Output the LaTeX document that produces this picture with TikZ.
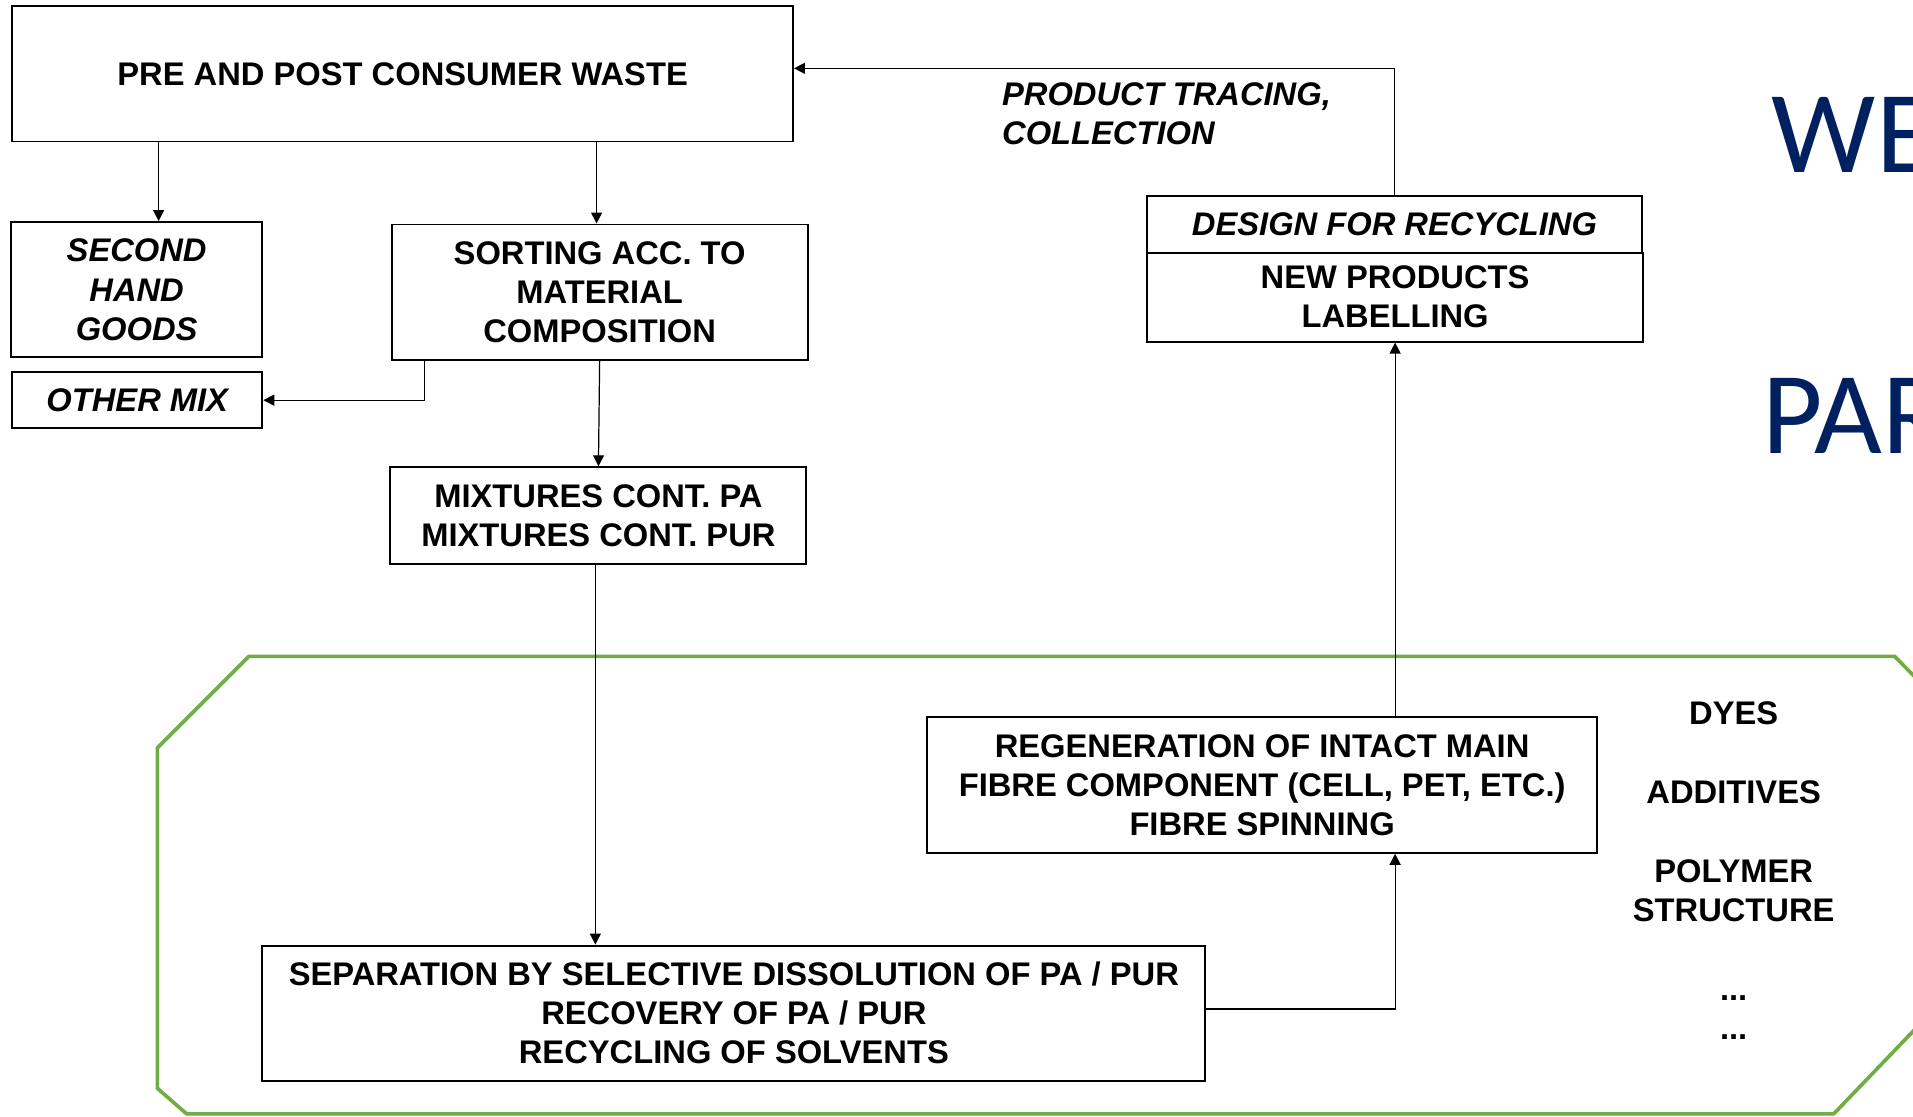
\documentclass[tikz,border=0pt]{standalone}
\usepackage{fontspec}
\setmainfont{Liberation Sans}
\newfontfamily\calibrifam{Carlito}
\usetikzlibrary{arrows.meta}
\definecolor{navyblue}{RGB}{0,32,96}
\definecolor{pgreen}{RGB}{112,173,71}
\newcommand\dtxt{\bfseries\fontsize{13.4}{16}\selectfont}
\begin{document}
\begin{tikzpicture}[x=0.5pt,y=-0.5pt,
  box/.style={draw,line width=0.8pt,inner sep=0pt,align=center,font=\dtxt},
  ibox/.style={box,font=\dtxt\itshape},
  lbl/.style={inner sep=0pt,align=center,font=\dtxt},
  conn/.style={line width=0.5pt,-{Triangle[length=4.5pt,width=4.5pt]}},
  big/.style={inner sep=0pt,anchor=base west,text=navyblue,font=\calibrifam\fontsize{48}{48}\selectfont}]
\clip (0,0) rectangle (1568,915);
% green frame
\draw[pgreen,line width=1.5pt,line join=miter]
  (1600,586) -- (1553,538) -- (204,538) -- (129,613) -- (129,892) -- (153,913) -- (1503,913) -- (1600,812);
% boxes
\node[box,minimum width=320pt,minimum height=55.5pt] (waste) at (330,60.5) {PRE AND POST CONSUMER WASTE};
\node[ibox,minimum width=103pt,minimum height=55.5pt] (second) at (112,237.5) {SECOND\\HAND\\GOODS};
\node[ibox,minimum width=102.5pt,minimum height=23pt] (othermix) at (112.5,328) {OTHER MIX};
\node[box,minimum width=170.5pt,minimum height=55.5pt] (sorting) at (491.5,239.5) {SORTING ACC. TO\\MATERIAL\\COMPOSITION};
\node[box,minimum width=170.5pt,minimum height=39.5pt] (mixtures) at (490.5,422.5) {MIXTURES CONT. PA\\MIXTURES CONT. PUR};
\node[ibox,minimum width=203pt,minimum height=23pt] (design) at (1143,184) {DESIGN FOR RECYCLING};
\node[box,minimum width=203.5pt,minimum height=36.5pt] (newprod) at (1143.5,243.5) {NEW PRODUCTS\\LABELLING};
\node[box,minimum width=274.5pt,minimum height=55.5pt] (regen) at (1034.5,643.5) {REGENERATION OF INTACT MAIN\\FIBRE COMPONENT (CELL, PET, ETC.)\\FIBRE SPINNING};
\node[box,minimum width=386.5pt,minimum height=55.5pt] (sep) at (601.5,830.5) {SEPARATION BY SELECTIVE DISSOLUTION OF PA / PUR\\RECOVERY OF PA / PUR\\RECYCLING OF SOLVENTS};
% labels
\node[lbl,anchor=west,align=left,font=\dtxt\itshape] (trace) at (821,93) {PRODUCT TRACING,\\COLLECTION};
\node[lbl] (dyes) at (1421,585) {DYES};
\node[lbl] (additives) at (1421,649) {ADDITIVES};
\node[lbl] (polymer) at (1421,730) {POLYMER\\STRUCTURE};
\node[lbl,anchor=base] (dots1) at (1421,820) {...};
\node[lbl,anchor=base] (dots2) at (1421,852) {...};
\node[big] (we) at (1452,141) {WE};
\node[big] (par) at (1444,372) {PAR};
% helper coordinates
\coordinate (x130) at (130,0);
\coordinate (x489) at (489,0);
\coordinate (x348) at (348,0);
\coordinate (x488) at (488,0);
\coordinate (x1143) at (1143.5,0);
% connectors
\draw[conn] (waste.south -| x130) -- (second.north -| x130);
\draw[conn] (waste.south -| x489) -- (sorting.north -| x489);
\draw[conn] (sorting.south -| x348) |- (othermix.east);
\draw[conn] (sorting.south) -- (mixtures.north);
\draw[conn] (mixtures.south -| x488) -- (sep.north -| x488);
\draw[conn] ([yshift=1.75pt]sep.east) -| (regen.south -| x1143);
\draw[conn] (regen.north -| x1143) -- (newprod.south);
\draw[conn] (design.north) |- ([yshift=2.25pt]waste.east);
\end{tikzpicture}
\end{document}
